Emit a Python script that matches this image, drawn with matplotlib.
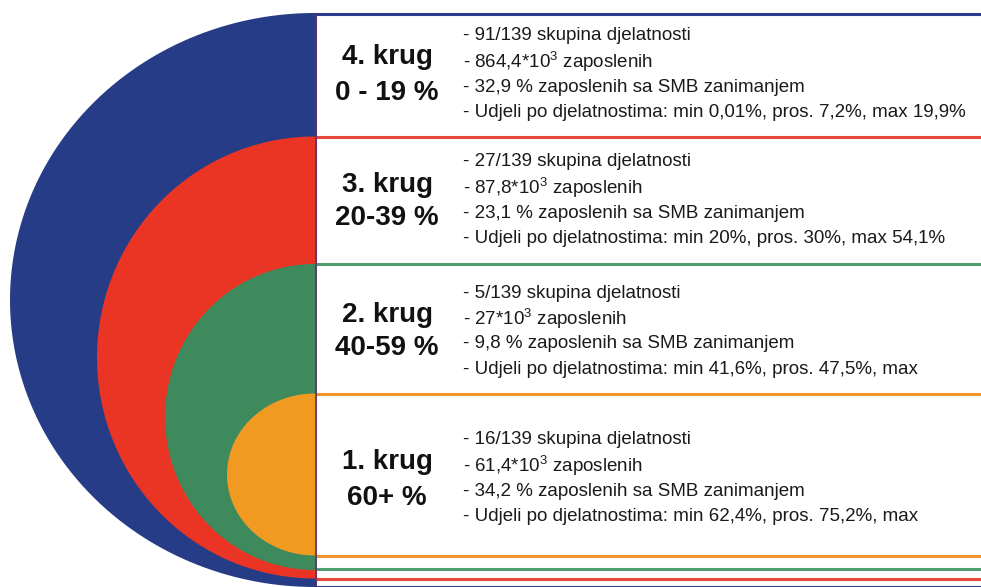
import numpy as np
import matplotlib
matplotlib.use("Agg")
import matplotlib.pyplot as plt
from matplotlib.patches import Polygon, Rectangle

plt.rcParams['font.family'] = ['Liberation Sans', 'DejaVu Sans']
plt.rcParams['mathtext.fontset'] = 'custom'
plt.rcParams['mathtext.rm'] = 'Liberation Sans'
plt.rcParams['mathtext.it'] = 'Liberation Sans'

# ---- data ----
rings = ["4. krug", "3. krug", "2. krug", "1. krug"]
ranges = ["0 - 19 %", "20-39 %", "40-59 %", "60+ %"]
groups = ["91/139", "27/139", "5/139", "16/139"]
employed = ["864,4", "87,8", "27", "61,4"]
smb_share = ["32,9", "23,1", "9,8", "34,2"]
shares = ["min 0,01%, pros. 7,2%, max 19,9%",
          "min 20%, pros. 30%, max 54,1%",
          "min 41,6%, pros. 47,5%, max",
          "min 62,4%, pros. 75,2%, max"]

# ---- layout (pixel space) ----
W, H = 981, 587
fill_colors = ["#263c86", "#ea3524", "#3f8a5c", "#f09a22"]
edge_colors = ["#2c3c8c", "#e8483a", "#4f9e70", "#f0952e"]
x0 = 315
ell = [(300.0, 305, 287), (357.5, 218, 221), (417.0, 150, 153), (474.5, 88, 81)]
rect_y = [(14, 587), (137, 579), (264, 569), (394, 556)]
label_y = [(57, 93), (185, 218), (315, 348), (462, 498)]
row_y0 = [36, 162, 293, 440]
row_dy = 25.5

fig = plt.figure(figsize=(W / 100, H / 100), dpi=100)
ax = fig.add_axes([0, 0, 1, 1])
ax.set_xlim(0, W)
ax.set_ylim(H, 0)
ax.axis('off')

# rectangles (boxes)
for i in range(4):
    y1, y2 = rect_y[i]
    ax.add_patch(Rectangle((x0, y1), W + 50 - x0, y2 - y1, facecolor='white',
                           edgecolor=edge_colors[i], linewidth=2.2, zorder=1 + i))

# half ellipses
t = np.linspace(np.pi / 2, 3 * np.pi / 2, 300)
for i in range(4):
    cy, rx, ry = ell[i]
    pts = np.column_stack([x0 + rx * np.cos(t), cy - ry * np.sin(t)])
    ax.add_patch(Polygon(pts, closed=True, facecolor=fill_colors[i],
                         edgecolor='none', zorder=10 + i))

# vertical divider line
ax.plot([x0 + 1, x0 + 1], [14, H], color='#5a2f6a', linewidth=1.2, zorder=15)

# texts
for i in range(4):
    ax.text(387, label_y[i][0], rings[i], ha='center', va='center',
            fontsize=20, fontweight='bold', color='#111111', zorder=20)
    ax.text(387, label_y[i][1], ranges[i], ha='center', va='center',
            fontsize=20, fontweight='bold', color='#111111', zorder=20)
    lines = [f"- {groups[i]} skupina djelatnosti",
             f"- {employed[i]}*10$^{{3}}$ zaposlenih",
             f"- {smb_share[i]} % zaposlenih sa SMB zanimanjem",
             f"- Udjeli po djelatnostima: {shares[i]}"]
    for k, s in enumerate(lines):
        ax.text(463, row_y0[i] + k * row_dy, s, ha='left', va='center',
                fontsize=13.5, color='#1a1a1a', zorder=20)

fig.savefig("out.png", dpi=100)
